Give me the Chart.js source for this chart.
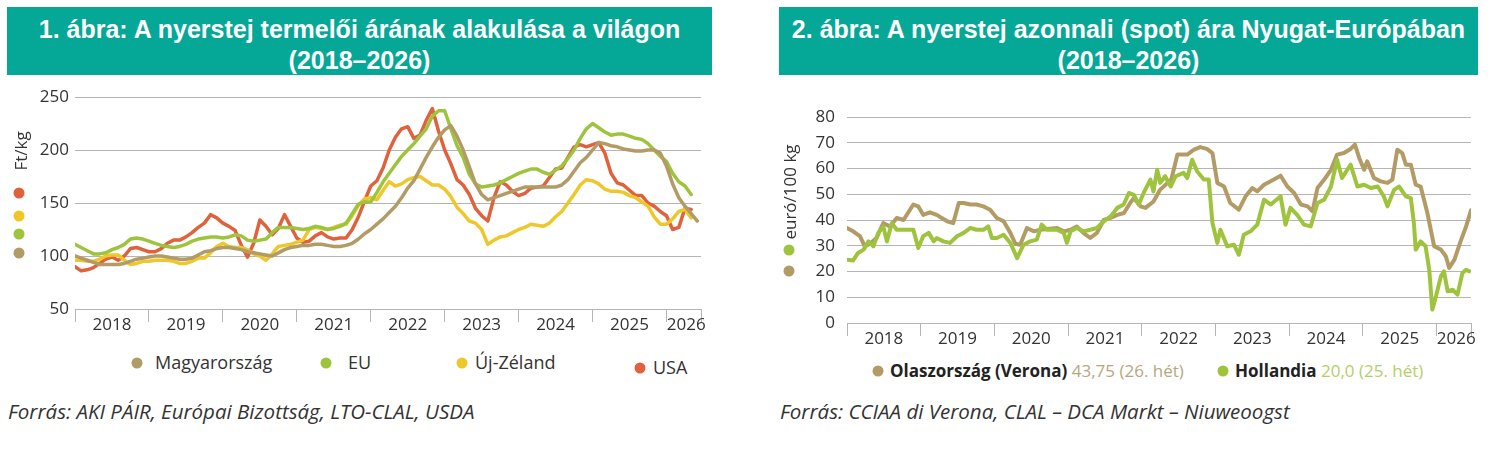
<!DOCTYPE html>
<html>
<head>
<meta charset="utf-8">
<script src="https://cdn.jsdelivr.net/npm/chart.js@4.4.1/dist/chart.umd.min.js"></script>
<style>
  body { margin: 0; background: #fff; width: 1492px; height: 474px; position: relative; overflow: hidden; font-family: 'Open Sans', sans-serif; color: #333; }
  .title { position: absolute; top: 7px; height: 68px; background: #05a897; color: #fff; text-align: center;
           font-family: 'Liberation Sans Narrow', sans-serif; font-weight: bold; font-size: 25px; line-height: 31px; padding-top: 7px; box-sizing: border-box; }
  canvas { position: absolute; }
  .ytitle { position: absolute; font-size: 17px; white-space: nowrap; transform: translate(-50%, -50%) rotate(-90deg); color: #333; }
  .dot { position: absolute; width: 11px; height: 11px; border-radius: 50%; transform: translate(-50%, -50%); }
  .leg { position: absolute; font-size: 18px; white-space: nowrap; transform: translateY(-50%); }
  .src { position: absolute; top: 397px; font-size: 20.5px; font-style: italic; white-space: nowrap; color: #333; }
</style>
</head>
<body>
<div class="title" style="left:7px;width:705px">1. ábra: A nyerstej termelői árának alakulása a világon<br>(2018–2026)</div>
<div class="title" style="left:779px;width:699px">2. ábra: A nyerstej azonnali (spot) ára Nyugat-Európában<br>(2018–2026)</div>

<canvas id="chart1" width="712" height="260" style="left:0;top:80px"></canvas>
<canvas id="chart2" width="722" height="260" style="left:770px;top:90px"></canvas>

<div class="ytitle" style="left:20px;top:151px">Ft/kg</div>
<div class="dot" style="left:19px;top:193px;background:#e0623d"></div>
<div class="dot" style="left:19px;top:216px;background:#eec72a"></div>
<div class="dot" style="left:19px;top:234px;background:#9dc43c"></div>
<div class="dot" style="left:19px;top:253px;background:#b39b66"></div>

<div class="ytitle" style="left:789px;top:192px">euró/100 kg</div>
<div class="dot" style="left:789px;top:250px;background:#9dc43c"></div>
<div class="dot" style="left:789px;top:271px;background:#b39b66"></div>

<div class="dot" style="left:137px;top:363px;background:#b39b66"></div>
<div class="leg" style="left:155px;top:362px">Magyarország</div>
<div class="dot" style="left:326px;top:363px;background:#9dc43c"></div>
<div class="leg" style="left:348px;top:362px">EU</div>
<div class="dot" style="left:462px;top:363px;background:#eec72a"></div>
<div class="leg" style="left:475px;top:362px">Új-Zéland</div>
<div class="dot" style="left:640px;top:368px;background:#e0623d"></div>
<div class="leg" style="left:653px;top:367px">USA</div>

<div class="dot" style="left:878px;top:371px;background:#b39b66"></div>
<div class="leg" style="left:890px;top:370px;font-size:17px"><b style="color:#222">Olaszország (Verona)</b> <span style="color:#b8a67f">43,75 (26. hét)</span></div>
<div class="dot" style="left:1223px;top:371px;background:#9dc43c"></div>
<div class="leg" style="left:1235px;top:370px;font-size:17px"><b style="color:#222">Hollandia</b> <span style="color:#b4cf68">20,0 (25. hét)</span></div>

<div class="src" style="left:8px">Forrás: AKI PÁIR, Európai Bizottság, LTO-CLAL, USDA</div>
<div class="src" style="left:780px">Forrás: CCIAA di Verona, CLAL – DCA Markt – Niuweoogst</div>

<script>
// years on the time axis, x values counted in months from Jan 2018
const years = ['2018', '2019', '2020', '2021', '2022', '2023', '2024', '2025', '2026'];

// chart 1: producer price, Ft/kg, monthly from Jan 2018
const hungary = [100, 98, 96, 94, 92, 92, 92, 92, 93, 95, 97, 98, 99, 100, 100, 99, 98, 97, 97, 98,
  101, 104, 105, 107, 108, 108, 107, 106, 104, 103, 102, 101, 100, 103, 106, 108, 109, 110, 110, 111,
  111, 110, 109, 109, 110, 112, 116, 121, 125, 130, 135, 141, 147, 155, 164, 171, 182, 193, 203, 212,
  219, 223, 213, 200, 184, 168, 158, 153, 155, 157, 159, 161, 163, 165, 165, 165, 165, 165, 165, 167,
  172, 180, 188, 193, 200, 207, 206, 204, 203, 201, 200, 199, 199, 200, 200, 197, 185, 168, 155, 147,
  140, 133];
const eu = [111, 108, 105, 102, 102, 103, 106, 108, 111, 116, 117, 116, 114, 112, 110, 109, 108, 109, 111, 114,
  116, 117, 118, 118, 117, 118, 120, 119, 115, 114, 115, 116, 122, 127, 127, 127, 126, 125, 126, 128,
  127, 125, 126, 128, 131, 140, 149, 151, 151, 160, 170, 178, 186, 194, 200, 206, 213, 220, 232, 237,
  237, 220, 204, 193, 177, 168, 165, 166, 167, 169, 172, 175, 178, 180, 182, 182, 179, 177, 181, 185,
  192, 200, 211, 220, 225, 221, 217, 214, 215, 215, 213, 211, 210, 206, 200, 194, 189, 178, 170, 166,
  158];
const newZealand = [96, 96, 95, 95, 97, 100, 101, 101, 96, 92, 93, 95, 95, 96, 96, 96, 95, 93, 93, 95,
  98, 98, 103, 109, 112, 109, 108, 108, 106, 102, 100, 96, 102, 109, 110, 111, 113, 115, 125, 127,
  126, 125, 127, 129, 130, 138, 148, 154, 155, 153, 162, 170, 166, 168, 172, 174, 175, 171, 167, 167,
  163, 156, 146, 140, 133, 131, 125, 111, 115, 118, 119, 122, 125, 127, 130, 129, 128, 131, 137, 142,
  150, 158, 167, 172, 171, 168, 163, 161, 161, 160, 157, 155, 151, 147, 137, 130, 130, 135, 142, 144,
  136];
const usa = [90, 86, 87, 89, 93, 97, 99, 96, 100, 107, 108, 106, 104, 104, 107, 112, 115, 115, 118, 122,
  127, 131, 139, 136, 131, 128, 124, 110, 99, 112, 134, 128, 120, 126, 139, 128, 117, 113, 114, 119,
  122, 118, 116, 117, 117, 125, 137, 152, 166, 171, 183, 200, 212, 220, 222, 211, 214, 228, 239, 218,
  200, 187, 172, 167, 158, 145, 138, 133, 155, 170, 167, 161, 157, 159, 164, 165, 166, 174, 182, 183,
  193, 203, 205, 203, 205, 207, 197, 178, 169, 167, 162, 157, 157, 150, 147, 142, 138, 125, 127, 145,
  144];

// chart 2: spot price, euro/100 kg, weekly quotes read as [month, value]
const veronaX = [0, 1.0, 2.1, 2.9, 3.75, 4.8, 5.9, 7.0, 8.1, 9.2, 10.8, 11.6, 12.4, 13.5, 14.6, 16.3, 17.3, 18.2, 19.0, 20.1,
  21.1, 22.2, 23.3, 24.4, 25.5, 26.6, 27.4, 28.2, 29.3, 30.4, 31.5, 32.6, 34.2, 35.3, 36.4, 37.4, 38.5, 39.6, 40.7, 41.8,
  42.9, 44.0, 45.1, 46.1, 46.7, 47.8, 48.6, 49.9, 51.0, 52.8, 53.8, 55.4, 56.5, 57.5, 58.6, 59.5, 60.3, 61.4, 62.4, 63.8,
  64.9, 66.0, 66.8, 67.9, 69.5, 70.6, 71.7, 72.8, 73.9, 75.0, 75.8, 76.6, 77.7, 78.8, 79.8, 80.9, 82.0, 82.7, 83.4, 84.2,
  84.7, 85.8, 86.9, 88.0, 88.8, 89.6, 90.4, 91.0, 91.8, 92.6, 93.4, 94.5, 95.6, 96.7, 97.5, 98.05, 98.9, 99.9, 100.8, 101.6];
const veronaY = [36.9, 35.6, 33.7, 29.8, 30.8, 33, 38.8, 37.5, 40.8, 40, 46, 45.3, 42, 43, 42, 39.5, 38.8, 46.6, 46.6, 46,
  46, 45.3, 44, 40.8, 39.5, 35, 30.8, 30.4, 36.9, 35.6, 36.2, 36.5, 36.9, 35.6, 36.2, 37.5, 35, 33, 35, 40,
  40.8, 42, 42.7, 46.6, 48.5, 45.3, 44.7, 47.2, 51.8, 55.7, 65.4, 65.4, 67.3, 68.3, 67.6, 66, 54.4, 53, 46.6, 44,
  49.2, 52.4, 51.1, 53.7, 55.7, 57.2, 53, 50.5, 46, 45.3, 43.4, 52.4, 55.7, 59.5, 65.4, 66, 67.6, 69.3, 64.1, 59.5,
  62.8, 56.3, 55, 54.4, 55.7, 67.3, 66, 61.5, 61.5, 53.7, 53, 42.7, 29.8, 28.5, 25.9, 21.4, 24.6, 31.7, 37.5, 43.75];
const hollandX = [0, 1.0, 1.8, 2.7, 3.5, 4.3, 5.1, 5.9, 6.5, 7.3, 8.1, 9.2, 10.8, 11.6, 12.4, 13.3, 14.1, 14.6, 15.7, 16.8,
  17.9, 19.0, 20.1, 21.1, 22.2, 23.0, 23.6, 24.4, 25.5, 26.6, 27.7, 28.75, 29.8, 30.9, 31.7, 32.55, 34.2, 35.3, 35.8, 36.4,
  37.4, 38.5, 39.6, 40.7, 41.8, 42.9, 44.0, 45.05, 45.9, 46.7, 47.5, 48.3, 49.4, 49.9, 50.5, 51.0, 51.8, 52.7, 53.5, 54.8,
  55.4, 56.2, 57.0, 58.1, 58.9, 59.5, 60.3, 60.8, 61.9, 63.0, 63.8, 64.6, 65.7, 66.8, 67.9, 69.0, 70.6, 71.4, 72.2, 73.3,
  74.4, 75.5, 76.6, 77.7, 78.8, 79.8, 80.6, 82.0, 83.1, 84.2, 85.3, 86.4, 87.4, 88.0, 89.1, 89.9, 91.0, 91.8, 92.3, 92.6,
  93.4, 94.2, 94.8, 95.3, 95.9, 96.7, 97.2, 97.8, 98.6, 99.4, 100.2, 100.8, 101.3];
const hollandY = [24.6, 24.3, 27.2, 28.5, 31.7, 29.8, 35, 37.5, 31.7, 38.8, 36.2, 36.2, 36.2, 29.1, 33.7, 35, 31.7, 33, 31.7, 31.1,
  33.7, 35, 36.9, 36.2, 36.2, 37.5, 33, 33, 34.3, 31.1, 25.2, 30.4, 31.7, 32.4, 38.2, 36.2, 36.2, 35, 31.1, 35.6,
  36.9, 35.6, 36.2, 36.9, 39.5, 41.4, 44.7, 46, 50.5, 49.8, 46, 50.5, 55.7, 51.1, 59.5, 54.4, 57, 53, 57, 58.3,
  56.3, 63.4, 58.9, 55.7, 55.7, 38.8, 31.1, 36.2, 29.8, 30.4, 26.5, 34.3, 35.6, 38.2, 47.9, 46, 49.2, 38.2, 44.7, 42,
  38.2, 37.5, 46.6, 47.9, 53, 63.4, 56.3, 61.5, 53, 53.7, 52.4, 53, 49.2, 45.3, 51.8, 53, 49.2, 48.5, 38.8, 28.5,
  31.7, 29.8, 20.7, 5.2, 10.4, 18.1, 20.1, 12.3, 12.9, 11, 19.4, 20.7, 20.1];

const BROWN = '#b39b66', GREEN = '#9dc43c', YELLOW = '#eec72a', ORANGE = '#e0623d';
const GRID = '#b5b5b5';
const X_MAX = 101.6;
const YEAR_LABEL_POS = [6, 18, 30, 42, 54, 66, 78, 90, 99.2];

Chart.defaults.font.family = "'Open Sans', sans-serif";
Chart.defaults.font.size = 17;
Chart.defaults.color = '#333';

function monthly(arr) {
  return arr.map((v, i) => ({ x: i, y: v }));
}
function paired(xs, ys) {
  return xs.map((x, i) => ({ x: x, y: ys[i] }));
}
function line(data, color, width) {
  return { data: data, borderColor: color, borderWidth: width, pointRadius: 0, tension: 0, borderJoinStyle: 'round', borderCapStyle: 'round' };
}

// x axis: separators at every January, year names half way between
function yearAxis(height) {
  return {
    type: 'linear', min: 0, max: X_MAX,
    afterBuildTicks: axis => {
      const t = [];
      for (let i = 0; i <= 96; i += 12) t.push({ value: i });
      t.push({ value: X_MAX });
      YEAR_LABEL_POS.forEach(v => t.push({ value: v }));
      axis.ticks = t;
    },
    afterFit: axis => { axis.height = height; },
    border: { display: false },
    grid: {
      drawOnChartArea: false, tickLength: 13, lineWidth: 1,
      color: ctx => (ctx.tick && YEAR_LABEL_POS.includes(ctx.tick.value)) ? 'rgba(0,0,0,0)' : GRID
    },
    ticks: {
      autoSkip: false, maxRotation: 0, padding: -7,
      callback: value => {
        const k = YEAR_LABEL_POS.indexOf(value);
        return k >= 0 ? years[k] : '';
      }
    }
  };
}

function valueAxis(min, max, step, width, pad) {
  return {
    min: min, max: max,
    afterFit: axis => { axis.width = width; },
    border: { display: false },
    grid: { color: GRID, lineWidth: 1, drawTicks: false },
    ticks: { stepSize: step, padding: pad }
  };
}

new Chart(document.getElementById('chart1'), {
  type: 'line',
  data: {
    datasets: [
      line(monthly(hungary), BROWN, 3.5),
      line(monthly(eu), GREEN, 3.5),
      line(monthly(newZealand), YELLOW, 3.5),
      line(monthly(usa), ORANGE, 3.5)
    ]
  },
  options: {
    responsive: false, animation: false,
    layout: { padding: { top: 17, right: 11, left: 0, bottom: 0 } },
    plugins: { legend: { display: false }, tooltip: { enabled: false } },
    scales: {
      x: yearAxis(31),
      y: valueAxis(50, 250, 50, 75, 6)
    }
  }
});

new Chart(document.getElementById('chart2'), {
  type: 'line',
  data: {
    datasets: [
      line(paired(hollandX, hollandY), GREEN, 4),
      line(paired(veronaX, veronaY), BROWN, 4)
    ]
  },
  options: {
    responsive: false, animation: false,
    layout: { padding: { top: 27, right: 21, left: 0, bottom: 0 } },
    plugins: { legend: { display: false }, tooltip: { enabled: false } },
    scales: {
      x: yearAxis(27),
      y: valueAxis(0, 80, 10, 77, 12)
    }
  }
});
</script>
</body>
</html>
